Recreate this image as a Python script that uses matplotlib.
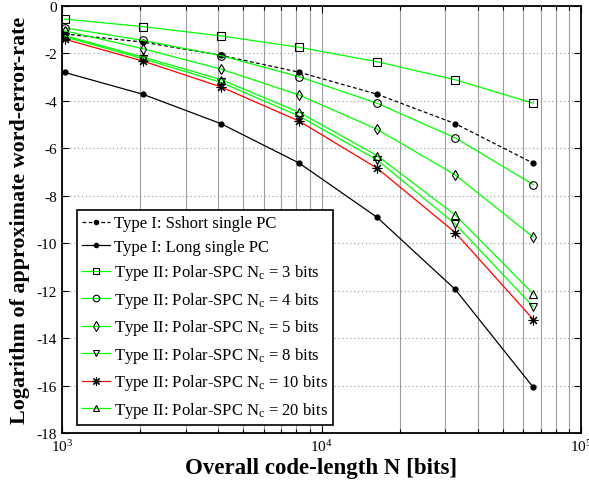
import matplotlib
matplotlib.use("Agg")
import matplotlib.pyplot as plt
from matplotlib.ticker import FixedLocator, LogLocator, NullFormatter

plt.rcParams["font.family"] = ["Liberation Serif", "DejaVu Serif"]
plt.rcParams["mathtext.fontset"] = "custom"
plt.rcParams["mathtext.rm"] = "Liberation Serif"
plt.rcParams["mathtext.it"] = "Liberation Serif:italic"
plt.rcParams["mathtext.bf"] = "Liberation Serif:bold"
plt.rcParams["axes.unicode_minus"] = False

# Code lengths N (bits)
code_length = [1024, 2048, 4096, 8192, 16384, 32768, 65536]

# log10 of approximate word-error-rate
short_single_pc = [-1.18, -1.52, -2.08, -2.79, -3.72, -4.96, -6.63]
long_single_pc = [-2.80, -3.72, -4.96, -6.62, -8.91, -11.95, -16.08]
polar_spc_nc3 = [-0.55, -0.87, -1.26, -1.74, -2.35, -3.11, -4.10]
polar_spc_nc4 = [-0.92, -1.45, -2.09, -2.98, -4.10, -5.56, -7.53]
polar_spc_nc5 = [-1.05, -1.80, -2.66, -3.75, -5.20, -7.12, -9.75]
polar_spc_nc8 = [-1.30, -2.22, -3.22, -4.64, -6.49, -9.19, -12.68]
polar_spc_nc10 = [-1.40, -2.32, -3.41, -4.85, -6.84, -9.55, -13.22]
polar_spc_nc20 = [-1.25, -2.15, -3.10, -4.48, -6.31, -8.81, -12.14]

y_ticks = [0, -2, -4, -6, -8, -10, -12, -14, -16, -18]

GREEN = "#00ff00"
RED = "#ff0000"

fig = plt.figure(figsize=(5.89, 4.89), dpi=100)
ax = fig.add_axes([0.1053, 0.1125, 0.8811, 0.8732])

lw = 0.9
ax.plot(code_length, short_single_pc, "--", color="black", lw=lw, marker="o",
        ms=3.5, mfc="black", mec="black", dashes=(3, 2),
        label="Type I: Sshort single PC")
ax.plot(code_length, long_single_pc, "-", color="black", lw=lw, marker="o",
        ms=3.5, mfc="black", mec="black",
        label="Type I: Long single PC")

series = [
    (polar_spc_nc3, "s", GREEN, "3"),
    (polar_spc_nc4, "o", GREEN, "4"),
    (polar_spc_nc5, "d", GREEN, "5"),
    (polar_spc_nc8, "v", GREEN, "8"),
    (polar_spc_nc10, (8, 2, 0), RED, "10"),
    (polar_spc_nc20, "^", GREEN, "20"),
]
for values, marker, color, nc in series:
    ax.plot(code_length, values, "-", color=color, lw=lw, marker=marker,
            ms=7 if marker == (8, 2, 0) else 5.5, mfc="none", mec="black",
            mew=0.8,
            label=r"Type II: Polar-SPC N$_\mathrm{c}$ = " + nc + " bits")

ax.set_xscale("log")
ax.set_xlim(1e3, 1e5)
ax.set_ylim(-18, 0)
ax.yaxis.set_major_locator(FixedLocator(y_ticks))
ax.xaxis.set_major_locator(LogLocator(base=10, numticks=10))
ax.xaxis.set_minor_locator(LogLocator(base=10, subs=range(2, 10), numticks=20))
ax.xaxis.set_minor_formatter(NullFormatter())

# grid: solid vertical lines at every decade subdivision, dotted horizontal lines
ax.grid(True, axis="x", which="both", color="0.62", lw=0.8, ls="-")
ax.grid(True, axis="y", which="major", color="0.6", lw=0.8, ls=(0, (1, 2.5)))
ax.set_axisbelow(True)

ax.tick_params(axis="both", which="both", direction="in", top=True, right=True,
               labelsize=11, color="black")
ax.tick_params(which="major", length=5, width=0.8)
ax.tick_params(which="minor", length=3, width=0.8)
for sp in ax.spines.values():
    sp.set_linewidth(1.3)

ax.set_xlabel("Overall code-length N [bits]", fontsize=16.5, fontweight="bold",
              labelpad=2)
ax.set_ylabel("Logarithm of approximate word-error-rate", fontsize=15.8,
              fontweight="bold", labelpad=5)

leg = ax.legend(loc="lower left", bbox_to_anchor=(0.029, 0.019),
                borderaxespad=0, fontsize=12, frameon=True, fancybox=False,
                framealpha=1, edgecolor="black", handlelength=1.7,
                handletextpad=0.2, borderpad=0.3, labelspacing=0.45,
                markerscale=0.85)
leg.get_frame().set_linewidth(1.2)

fig.savefig("out.png", dpi=100)
